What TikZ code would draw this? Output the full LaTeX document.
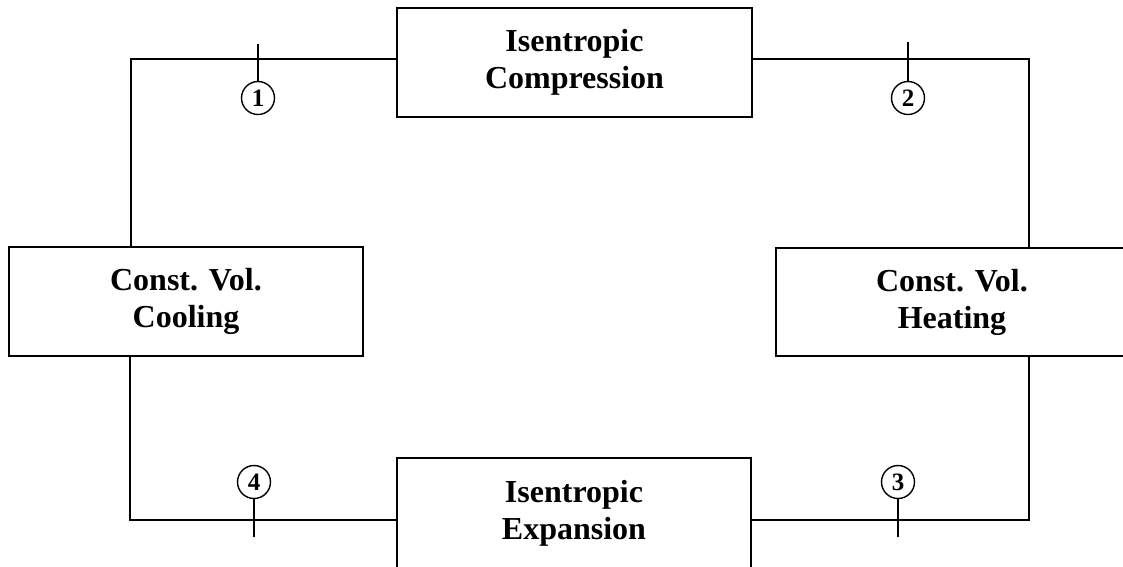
\documentclass[tikz,border=0pt]{standalone}
\usepackage{fontspec}
\setmainfont{Liberation Serif}
\begin{document}
\begin{tikzpicture}[x=1pt,y=-1pt,line width=1.5pt,
  procbox/.style={draw,line width=1.5pt,inner sep=0pt,align=center,
    font=\fontsize{32}{37}\selectfont\bfseries},
  statecirc/.style={draw,circle,line width=1.4pt,minimum size=33pt,inner sep=0pt,
    font=\fontsize{25}{26}\selectfont\bfseries},
  pipe/.style={line width=1.5pt}]
\useasboundingbox (0,0) rectangle (1123,566);
% process boxes
\node[procbox,minimum width=355pt,minimum height=109pt] (comp) at (574.5,62.5) {Isentropic\\Compression};
\node[procbox,minimum width=354pt,minimum height=110pt] (exp) at (574,513) {Isentropic\\Expansion};
\node[procbox,minimum width=354pt,minimum height=109pt] (cool) at (186,301.5) {Const. Vol.\\Cooling};
\node[procbox,minimum width=352pt,minimum height=108pt] (heat) at (952,302) {Const. Vol.\\Heating};
% corners of the loop
\coordinate (tl) at (131,59);
\coordinate (tr) at (1029,59);
\coordinate (bl) at (130,520);
\coordinate (br) at (1029,520);
% loop lines
\draw[pipe] (comp.west |- tl) -- (tl) -- (tl |- cool.north);
\draw[pipe] (comp.east |- tr) -- (tr) -- (tr |- heat.north);
\draw[pipe] (heat.south -| br) -- (br) -- (exp.east |- br);
\draw[pipe] (cool.south -| bl) -- (bl) -- (exp.west |- bl);
% state points
\node[statecirc] (s1) at (258,98) {1};
\node[statecirc] (s2) at (908,98) {2};
\node[statecirc] (s3) at (898,482) {3};
\node[statecirc] (s4) at (254,482) {4};
\coordinate (t1) at (258,44);
\coordinate (t2) at (908,42);
\coordinate (t3) at (898,537);
\coordinate (t4) at (254,537);
\draw[pipe] (t1) -- (s1.north);
\draw[pipe] (t2) -- (s2.north);
\draw[pipe] (t3) -- (s3.south);
\draw[pipe] (t4) -- (s4.south);
\end{tikzpicture}
\end{document}
